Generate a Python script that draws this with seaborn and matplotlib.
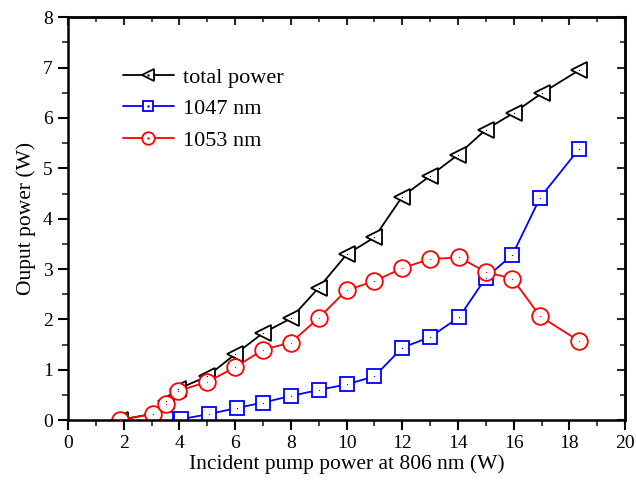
import matplotlib
matplotlib.use("Agg")
import matplotlib.pyplot as plt
import seaborn as sns
import numpy as np
import pandas as pd
from matplotlib.ticker import MultipleLocator
from matplotlib.legend_handler import HandlerTuple

# data
x_total = [1.85, 3.05, 3.5, 3.95, 5.0, 6.0, 7.0, 8.0, 9.0, 10.0, 11.0, 12.0, 13.0, 14.0, 15.0, 16.0, 17.0, 18.35]
y_total = [0.0, 0.13, 0.38, 0.62, 0.87, 1.31, 1.73, 2.02, 2.63, 3.29, 3.63, 4.44, 4.85, 5.27, 5.77, 6.1, 6.49, 6.95]
x_1047 = [3.5, 4.05, 5.05, 6.05, 7.0, 8.0, 9.0, 10.0, 11.0, 12.0, 13.0, 14.05, 15.0, 15.95, 16.95, 18.35]
y_1047 = [0.02, 0.02, 0.12, 0.24, 0.35, 0.48, 0.6, 0.71, 0.87, 1.44, 1.65, 2.05, 2.83, 3.28, 4.42, 5.39]
x_1053 = [1.85, 3.05, 3.5, 3.95, 5.0, 6.0, 7.0, 8.0, 9.0, 10.0, 11.0, 12.0, 13.0, 14.05, 15.0, 15.95, 16.95, 18.35]
y_1053 = [0.01, 0.12, 0.33, 0.58, 0.76, 1.05, 1.4, 1.54, 2.03, 2.58, 2.76, 3.02, 3.2, 3.23, 2.94, 2.81, 2.06, 1.57]
labels = ["total power", "1047 nm", "1053 nm"]
colors = ["black", "blue", "red"]
markers = ["<", "s", "o"]
msizes = [12, 10.5, 12]

sns.set_theme(style="white")
plt.rcParams["font.family"] = ["Liberation Serif", "DejaVu Serif"]
plt.rcParams["text.color"] = "black"
plt.rcParams["axes.labelcolor"] = "black"

fig = plt.figure(figsize=(6.36, 4.92), dpi=100)
ax = fig.add_axes([0.107, 0.146, 0.876, 0.819])

series = [(x_total, y_total), (x_1047, y_1047), (x_1053, y_1053)]
handles = []
for (xs, ys), lab, c, m, ms in zip(series, labels, colors, markers, msizes):
    df = pd.DataFrame({"x": xs, "y": ys})
    sns.lineplot(data=df, x="x", y="y", ax=ax, color=c, marker=m, markersize=ms,
                 markerfacecolor="white", markeredgecolor=c, markeredgewidth=1.3,
                 linewidth=1.3, sort=False, estimator=None, label=None)
    line = ax.lines[-1]
    sns.scatterplot(data=df, x="x", y="y", ax=ax, color=c, marker=".", s=3,
                    linewidth=0, zorder=5)
    dot, = ax.plot([], [], linestyle="none", marker=".", markersize=2.0, color=c)
    handles.append((line, dot))

ax.set_xlim(0, 20)
ax.set_ylim(0, 8)
ax.xaxis.set_major_locator(MultipleLocator(2))
ax.xaxis.set_minor_locator(MultipleLocator(1))
ax.yaxis.set_major_locator(MultipleLocator(1))
ax.yaxis.set_minor_locator(MultipleLocator(0.5))
ax.tick_params(axis="both", which="major", direction="out", length=7, width=1.5,
               labelsize=14, colors="black", bottom=True, left=True, pad=4)
ax.tick_params(axis="both", which="minor", direction="out", length=4, width=1.2,
               bottom=True, left=True)
for sp in ax.spines.values():
    sp.set_linewidth(1.8)
    sp.set_color("black")

# inward ticks on top/right
secx = ax.secondary_xaxis("top")
secx.xaxis.set_major_locator(MultipleLocator(2))
secx.xaxis.set_minor_locator(MultipleLocator(1))
secx.tick_params(which="major", direction="in", length=6, width=1.5, labeltop=False)
secx.tick_params(which="minor", direction="in", length=3.5, width=1.2)
secx.spines["top"].set_linewidth(1.8)
secy = ax.secondary_yaxis("right")
secy.yaxis.set_major_locator(MultipleLocator(1))
secy.yaxis.set_minor_locator(MultipleLocator(0.5))
secy.tick_params(which="major", direction="in", length=6, width=1.5, labelright=False)
secy.tick_params(which="minor", direction="in", length=3.5, width=1.2)
secy.spines["right"].set_linewidth(1.8)

ax.set_xlabel("Incident pump power at 806 nm (W)", fontsize=15.5, labelpad=1)
ax.set_ylabel("Ouput power (W)", fontsize=15.5, labelpad=5)

leg = ax.legend(handles, labels, handler_map={tuple: HandlerTuple(ndivide=1)},
                loc="upper left", bbox_to_anchor=(0.07, 0.915), frameon=False,
                fontsize=16, handlelength=2.3, handletextpad=0.4, labelspacing=0.5,
                borderpad=0.2, markerscale=0.75)

fig.savefig("out.png", dpi=100)
